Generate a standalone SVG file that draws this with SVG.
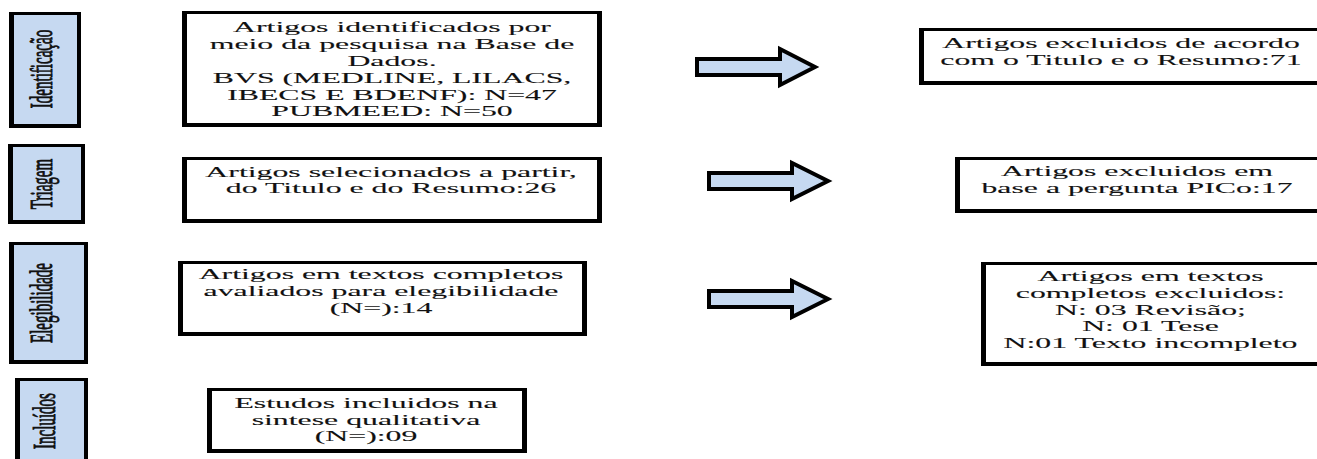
<svg xmlns="http://www.w3.org/2000/svg" width="1317" height="459" viewBox="0 0 1317 459">
<style>
.frame{fill:#000}
.face{fill:#fff}
.lab{fill:#c6d9f1}
.t{font-family:"Liberation Serif","Times New Roman",serif;font-size:15px;fill:#111;stroke:#111;stroke-width:0.1;text-anchor:middle}
.v{stroke-width:0.45}
.arrow{fill:#c6d9f1;stroke:#000;stroke-width:4;stroke-linejoin:miter;stroke-miterlimit:10}
</style>
<rect width="1317" height="459" fill="#fff"/>

<g id="label-identificacao">
<rect class="frame" x="9" y="12" width="72" height="116"/>
<rect class="lab" x="14" y="15" width="63" height="109"/>
<text class="t v" transform="translate(52,69) scale(2.12,1) rotate(-90)">Identificação</text>
</g>
<g id="label-triagem">
<rect class="frame" x="8" y="144" width="77" height="80"/>
<rect class="lab" x="13" y="147" width="68" height="73"/>
<text class="t v" transform="translate(52,184) scale(2.12,1) rotate(-90)">Triagem</text>
</g>
<g id="label-elegibilidade">
<rect class="frame" x="9" y="242" width="79" height="122"/>
<rect class="lab" x="14" y="245" width="70" height="115"/>
<text class="t v" transform="translate(52,303) scale(2.12,1) rotate(-90)">Elegibilidade</text>
</g>
<g id="label-incluidos">
<rect class="frame" x="15" y="378" width="73" height="95"/>
<rect class="lab" x="20" y="381" width="64" height="95"/>
<text class="t v" transform="translate(55,421) scale(2.12,1) rotate(-90)">Incluídos</text>
</g>

<g id="box-identificados">
<rect class="frame" x="182" y="11" width="420" height="116"/>
<rect class="face" x="187" y="14" width="410" height="109"/>
<text class="t" transform="translate(392,31.7) scale(2.12,1)"><tspan x="0" y="0">Artigos identificados por</tspan><tspan x="0" y="16.96">meio da pesquisa na Base de</tspan><tspan x="0" y="33.92">Dados.</tspan><tspan x="0" y="50.88">BVS (MEDLINE, LILACS,</tspan><tspan x="0" y="67.84">IBECS E BDENF): N=47</tspan><tspan x="0" y="84.8">PUBMEED: N=50</tspan></text>
</g>
<g id="box-selecionados">
<rect class="frame" x="182" y="157" width="420" height="66"/>
<rect class="face" x="187" y="160" width="410" height="59"/>
<text class="t" transform="translate(391,176.5) scale(2.12,1)"><tspan x="0" y="0">Artigos selecionados a partir,</tspan><tspan x="0" y="16.7">do Titulo e do Resumo:26</tspan></text>
</g>
<g id="box-elegibilidade">
<rect class="frame" x="178" y="261" width="409" height="75"/>
<rect class="face" x="183" y="264" width="399" height="68"/>
<text class="t" transform="translate(381,279.3) scale(2.12,1)"><tspan x="0" y="0">Artigos em textos completos</tspan><tspan x="0" y="17.1">avaliados para elegibilidade</tspan><tspan x="0" y="34.2">(N=):14</tspan></text>
</g>
<g id="box-incluidos">
<rect class="frame" x="207" y="388" width="320" height="65"/>
<rect class="face" x="212" y="391" width="310" height="58"/>
<text class="t" transform="translate(366,408) scale(2.12,1)"><tspan x="0" y="0">Estudos incluidos na</tspan><tspan x="0" y="16.7">sintese qualitativa</tspan><tspan x="0" y="33.4">(N=):09</tspan></text>
</g>

<g id="box-excluidos-titulo">
<rect class="frame" x="919" y="28" width="410" height="57"/>
<rect class="face" x="924" y="31" width="400" height="50"/>
<text class="t" transform="translate(1121,48) scale(2.12,1)"><tspan x="0" y="0">Artigos excluidos de acordo</tspan><tspan x="0" y="16.7">com o Titulo e o Resumo:71</tspan></text>
</g>
<g id="box-excluidos-pico">
<rect class="frame" x="955" y="157" width="375" height="56"/>
<rect class="face" x="960" y="160" width="365" height="49"/>
<text class="t" transform="translate(1137,176.4) scale(2.12,1)"><tspan x="0" y="0">Artigos excluidos em</tspan><tspan x="0" y="16.6">base a pergunta PICo:17</tspan></text>
</g>
<g id="box-excluidos-completos">
<rect class="frame" x="981" y="262" width="350" height="104"/>
<rect class="face" x="986" y="265" width="340" height="97"/>
<text class="t" transform="translate(1150.5,281.4) scale(2.12,1)"><tspan x="0" y="0">Artigos em textos</tspan><tspan x="0" y="16.65">completos excluidos:</tspan><tspan x="0" y="33.3">N: 03 Revisão;</tspan><tspan x="0" y="49.95">N: 01 Tese</tspan><tspan x="0" y="66.6">N:01 Texto incompleto</tspan></text>
</g>

<g id="connectors">
<polygon class="arrow" points="697,59 780,59 780,49 815,67 780,85 780,75 697,75"/>
<polygon class="arrow" points="709,173 792,173 792,163 828,181 792,199 792,189 709,189"/>
<polygon class="arrow" points="709,291 792,291 792,281 828,299 792,317 792,307 709,307"/>
</g>
</svg>
